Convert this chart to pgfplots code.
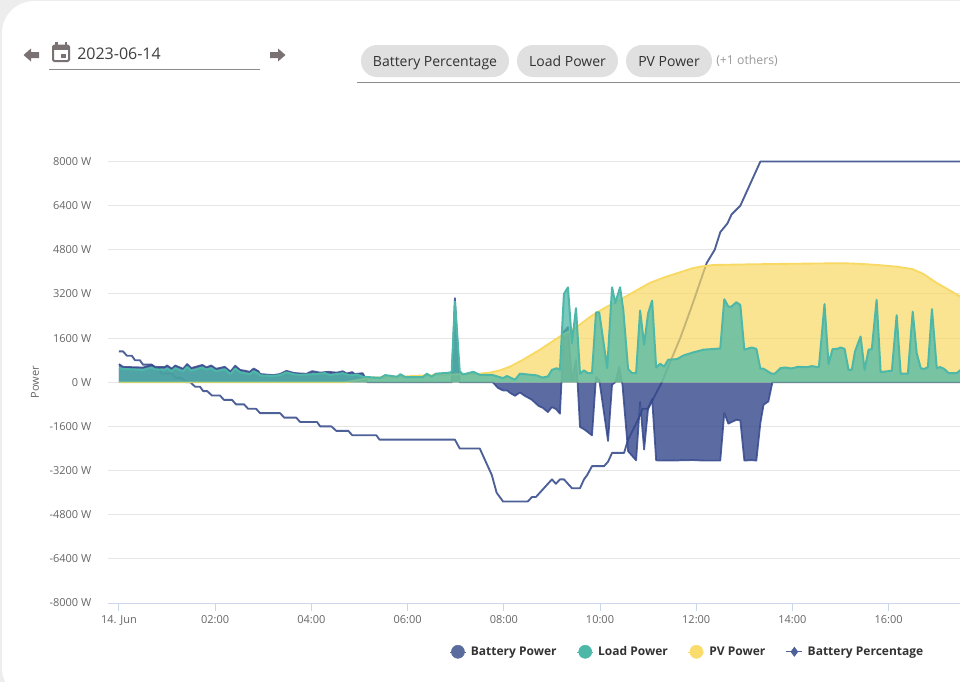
\documentclass[border=0pt]{standalone}
\usepackage{fontspec}
\setmainfont{Open Sans}
\usepackage{pgfplots}
\usepackage{pgfplotstable}
\pgfplotsset{compat=1.18}

\definecolor{batt}{HTML}{34488C}
\definecolor{battdot}{HTML}{5A6B9E}
\definecolor{load}{HTML}{4DB8A8}
\definecolor{pv}{HTML}{F8D964}
\definecolor{pvdot}{HTML}{F9DC6B}
\definecolor{pct}{HTML}{4D6098}
\definecolor{gridc}{HTML}{E6E6E6}
\definecolor{axisc}{HTML}{CCD6EB}
\definecolor{labelc}{HTML}{666666}
\definecolor{chip}{HTML}{E0E0E0}
\definecolor{iconc}{HTML}{7A7272}

% minutes since midnight, watts
\pgfplotstableread{
t w
0 0
282 0
290 40
301 100
315 160
326 180
351 200
375 240
413 280
450 310
463 355
475 430
488 570
504 815
525 1180
550 1660
570 1980
588 2380
605 2680
625 2990
645 3320
662 3600
680 3800
696 3950
715 4130
725 4190
741 4250
780 4270
825 4290
860 4300
903 4315
925 4290
946 4250
970 4190
990 4100
1003 3930
1020 3600
1035 3350
1049 3110
1060 2950
}\pvpower

\pgfplotstableread{
t w
0 520
5 480
15 470
30 450
41 530
45 470
57 450
60 500
66 400
70 510
80 400
85 560
90 420
104 530
109 460
115 510
121 400
132 470
139 300
145 500
151 360
157 330
163 290
168 400
174 310
176 250
192 230
201 260
209 360
218 290
226 270
241 290
257 330
263 260
279 330
288 250
297 280
304 200
326 160
332 260
347 200
351 290
357 190
379 190
384 310
390 200
395 310
413 350
415 390
419 2920
425 400
429 280
442 380
450 270
465 270
479 150
484 225
494 90
500 310
521 250
528 170
535 210
540 450
546 510
550 450
555 3200
560 3440
565 1420
570 2685
575 310
580 430
585 330
590 330
595 2530
599 2530
609 510
615 3440
619 2870
625 3440
629 2620
635 480
640 330
645 330
650 2600
655 1360
660 2500
665 2960
670 535
675 670
680 570
685 815
696 840
704 970
716 1080
729 1180
750 1225
755 3010
760 2745
764 2745
770 2900
775 2800
780 1180
789 1260
795 1210
800 490
804 490
814 310
818 310
825 510
831 535
839 500
847 560
858 545
864 585
873 545
880 2830
885 660
890 1200
896 1210
900 1260
905 1210
910 450
914 450
918 1115
925 1660
930 450
935 1180
939 1200
945 2990
950 370
964 415
970 2430
975 310
984 310
990 2560
995 1055
1000 510
1004 480
1009 550
1014 2650
1020 510
1024 550
1029 490
1035 330
1045 330
1049 430
1060 430
}\loadpower

\pgfplotstableread{
t w
0 660
5 560
30 535
41 630
45 560
57 550
60 610
66 490
70 610
80 490
85 660
90 515
104 630
109 540
115 610
121 490
132 560
139 390
145 600
151 450
157 420
163 380
168 500
174 400
176 300
192 260
201 300
209 415
218 340
226 320
234 310
241 405
251 350
261 380
272 350
279 400
284 320
291 370
294 300
304 330
310 0
415 0
419 3050
425 0
466 0
473 -210
479 -295
484 -295
488 -390
494 -490
500 -370
506 -490
515 -635
523 -850
529 -935
535 -1080
540 -900
545 -970
550 -1140
555 1840
560 2000
565 50
570 815
572 0
575 -1620
581 -1720
590 -1925
595 190
599 90
610 -2130
615 -90
619 0
624 550
628 -100
635 -2500
645 -2830
650 -720
655 -2440
660 -935
665 -610
670 -2830
685 -2840
700 -2830
715 -2820
730 -2840
750 -2840
755 -1115
760 -1500
770 -1360
775 -1380
780 -2840
789 -2820
795 -2840
800 -1480
804 -815
810 -695
815 0
1060 0
}\battpower

% percent, 0-100 over the full plot height
\pgfplotstableread{
t p
0 57
5 57
10 56
16 56
20 55
26 55
30 54
41 54
45 53
50 53
53 52
66 52
70 51
78 51
84 50
89 50
95 49
101 49
105 48
110 48
116 47
126 47
131 46
141 46
146 45
156 45
161 44
171 44
176 43
201 43
206 42
221 42
226 41
247 41
251 40
265 40
271 39
286 39
291 38
321 38
325 37
419 37
425 35
450 35
465 29
471 25
479 23
510 23
515 24
520 24
540 28
545 27
550 28
555 28
565 26
575 26
580 28
584 29
590 31
605 31
610 32
615 34
630 34
635 37
646 41
653 44
660 44
677 50
700 60
714 67
733 77
743 80
750 84
759 86
764 88
775 90
800 100
1049 100
}\battpct

\pgfplotsset{
  panel/.style={
    at={(81pt,-452.25pt)}, anchor=south west,
    scale only axis, width=639pt, height=331.1pt,
    xmin=-13.7, xmax=1049,
  },
  dotlegend/.style={
    legend image code/.code={\path (0pt,0pt) -- (12pt,0pt); \fill[##1] (6pt,0pt) circle (4.9pt);},
  },
  linelegend/.style={
    legend image code/.code={\draw[mark repeat=2,mark phase=2,##1] plot coordinates {(0pt,0pt)(6pt,0pt)(12pt,0pt)};},
  },
}

\begin{document}
\begin{tikzpicture}
\useasboundingbox (0,0) rectangle (720pt,-511.5pt);
% page background and card
\fill[black!7] (0,0) rectangle (720pt,-511.5pt);
\clip (0,0) rectangle (720pt,-511.5pt);
\fill[white,rounded corners=24pt] (1.5pt,-0.8pt) rectangle (780pt,-525pt);

\begin{scope}[x=0.75pt,y=-0.75pt]
% date picker
\fill[iconc] (23.5,55) -- (31,48.5) -- (31,52) -- (39,52) -- (39,58) -- (31,58) -- (31,61.5) -- cycle;
\fill[iconc] (285.5,55) -- (278,48.5) -- (278,52) -- (270,52) -- (270,58) -- (278,58) -- (278,61.5) -- cycle;
\draw[iconc,line width=1.5pt,rounded corners=1pt] (53,45.5) rectangle (69,61);
\fill[iconc] (53,45) rectangle (69,50);
\fill[iconc] (55,42) rectangle (57.5,46);
\fill[iconc] (64.5,42) rectangle (67,46);
\fill[iconc] (61,53.5) rectangle (65.5,58);
\node[anchor=base west,inner sep=0pt,text=black!75,font=\fontsize{12}{14}\selectfont] at (77,59.3) {2023-06-14};
\draw[black!45,line width=0.75pt] (49,69.5) -- (260,69.5);
% selected series
\fill[chip,rounded corners=12pt] (361,45) rectangle (509,77);
\fill[chip,rounded corners=12pt] (517,45) rectangle (618,77);
\fill[chip,rounded corners=12pt] (626,45) rectangle (712,77);
\node[anchor=base,text=black!80,inner sep=0pt,font=\fontsize{10.5}{12}\selectfont] at (435,66) {Battery Percentage};
\node[anchor=base,text=black!80,inner sep=0pt,font=\fontsize{10.5}{12}\selectfont] at (567.5,66) {Load Power};
\node[anchor=base,text=black!80,inner sep=0pt,font=\fontsize{10.5}{12}\selectfont] at (669,66) {PV Power};
\node[anchor=west,text=black!40,inner sep=0pt,font=\fontsize{9.2}{11}\selectfont] at (716,61) {(+1 others)};
\draw[black!45,line width=0.75pt] (357,82.5) -- (960,82.5);
\end{scope}

% axis, grid and legend go underneath everything
\begin{axis}[
  panel,
  ymin=-8000, ymax=8000,
  axis x line=bottom, axis y line=left,
  axis line style={-},
  x axis line style={axisc, line width=0.75pt},
  y axis line style={draw=none},
  xtick={0,120,240,360,480,600,720,840,960},
  xticklabels={14. Jun,02:00,04:00,06:00,08:00,10:00,12:00,14:00,16:00},
  ytick={-8000,-6400,-4800,-3200,-1600,0,1600,3200,4800,6400,8000},
  yticklabels={-8000 W,-6400 W,-4800 W,-3200 W,-1600 W,0 W,1600 W,3200 W,4800 W,6400 W,8000 W},
  ymajorgrids, grid style={gridc, line width=0.75pt},
  xtick style={axisc, line width=0.75pt},
  ytick style={draw=none},
  tick align=outside, major tick length=6pt,
  ticklabel style={text=labelc, font=\fontsize{8.25}{10}\selectfont},
  y tick label style={xshift=-3pt},
  ylabel={Power},
  every axis y label/.style={at={(axis description cs:-0.0857,0.5)}, rotate=90, anchor=center,
    text=labelc, font=\fontsize{8.25}{10}\selectfont},
  legend style={at={(0.6805,-0.1105)}, anchor=center, draw=none, fill=none,
    legend columns=4, font=\fontsize{9}{11}\selectfont\bfseries, text=black!80,
    /tikz/every even column/.append style={column sep=13.25pt},
    /tikz/every odd column/.append style={column sep=1.5pt}},
  legend cell align=left,
]
\addlegendimage{dotlegend, battdot}
\addlegendentry{Battery Power}
\addlegendimage{dotlegend, load}
\addlegendentry{Load Power}
\addlegendimage{dotlegend, pvdot}
\addlegendentry{PV Power}
\addlegendimage{linelegend, pct, line width=1pt, mark=diamond*, mark size=3pt}
\addlegendentry{Battery Percentage}
\end{axis}

% battery percentage sits behind the power areas
\begin{axis}[panel, ymin=0, ymax=100, hide axis, clip=false]
\addplot[pct, line width=1.4pt, line join=round] table[x=t,y=p] {\battpct};
\end{axis}

\begin{axis}[panel, ymin=-8000, ymax=8000, hide axis]
\addplot[draw=none, fill=batt, fill opacity=0.8] table[x=t,y=w] {\battpower} \closedcycle;
\addplot[batt, line width=1.3pt, line join=round, opacity=0.85] table[x=t,y=w] {\battpower};
\addplot[draw=none, fill=pv, fill opacity=0.7] table[x=t,y=w] {\pvpower} \closedcycle;
\addplot[pv, line width=1.4pt, line join=round] table[x=t,y=w] {\pvpower};
\addplot[draw=none, fill=load, fill opacity=0.75] table[x=t,y=w] {\loadpower} \closedcycle;
\addplot[load, line width=1.5pt, line join=round] table[x=t,y=w] {\loadpower};
\end{axis}
\end{tikzpicture}
\end{document}
